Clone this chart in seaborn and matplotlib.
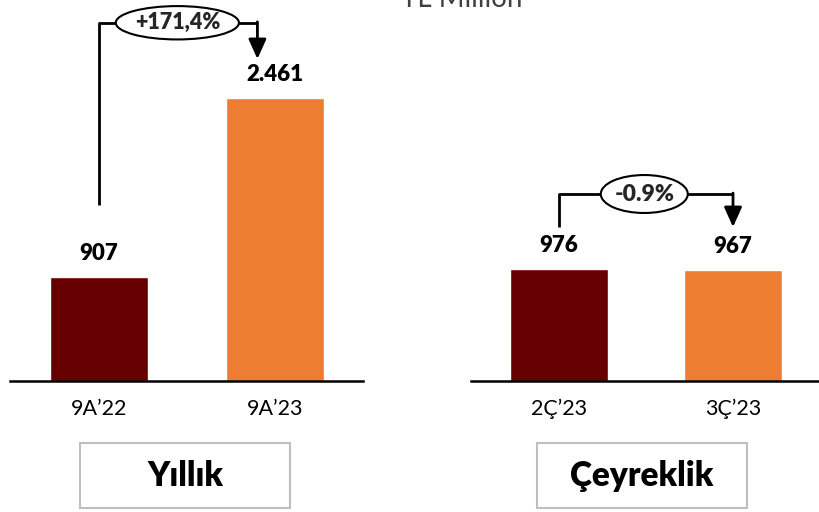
# TL Million - yearly vs quarterly comparison

import pandas as pd
import numpy as np
import matplotlib.pyplot as plt
import seaborn as sns
from matplotlib.patches import Rectangle, Ellipse

yearly_labels = ["9A’22", "9A’23"]
yearly_values = [907, 2461]
quarterly_labels = ["2Ç’23", "3Ç’23"]
quarterly_values = [976, 967]
yearly_change = "+171,4%"
quarterly_change = "-0.9%"
bar_colors = ["#660000", "#ED7D31"]

sns.set_theme(style="white")
plt.rcParams["font.family"] = ["Lato", "DejaVu Sans"]

fig = plt.figure(figsize=(8.2, 5.12), dpi=100)
ax1 = fig.add_axes([10 / 820, 1 - 381 / 512, 353 / 820, 381 / 512])
ax2 = fig.add_axes([471 / 820, 1 - 381 / 512, 349 / 820, 381 / 512])


def tr_num(v):
    return f"{v:,}".replace(",", ".")


def draw_panel(ax, labels, values):
    df = pd.DataFrame({"label": labels, "value": values})
    sns.barplot(data=df, x="label", y="value", hue="label", palette=bar_colors,
                width=0.56, legend=False, ax=ax, saturation=1)
    for cont, v in zip(ax.containers, values):
        ax.bar_label(cont, labels=[tr_num(v)], padding=9, fontsize=16,
                     fontweight="heavy", color="black")
    ax.set_ylim(0, 3313)
    ax.set_xlim(-0.506, 1.5)
    ax.set_xlabel("")
    ax.set_ylabel("")
    ax.set_yticks([])
    for s in ["left", "right", "top"]:
        ax.spines[s].set_visible(False)
    ax.spines["bottom"].set_color("black")
    ax.spines["bottom"].set_linewidth(1.8)
    ax.tick_params(axis="x", length=0, pad=13, labelsize=15.5, labelcolor="black")
    ax.patch.set_alpha(0)


draw_panel(ax1, yearly_labels, yearly_values)
draw_panel(ax2, quarterly_labels, quarterly_values)


def change_bracket(ax, x0, x1, y_low, y_top, y_tip, text, xt, ew, eh, fs):
    ax.plot([x0, x0, x1], [y_low, y_top, y_top], color="black", lw=2,
            clip_on=False, solid_capstyle="butt", zorder=3)
    ax.annotate("", xy=(x1, y_tip), xytext=(x1, y_top + 8),
                arrowprops=dict(arrowstyle="-|>,head_width=0.45,head_length=1.0",
                                color="black", lw=2, shrinkA=0, shrinkB=0),
                annotation_clip=False, zorder=3)
    ax.add_patch(Ellipse((xt, y_top), ew, eh, fc="white", ec="black", lw=1.5,
                         zorder=4, clip_on=False))
    ax.text(xt, y_top, text, ha="center", va="center", fontsize=fs,
            fontweight="heavy", zorder=5, clip_on=False)


change_bracket(ax1, 0, 0.9, 1530, 3115, 2800, yearly_change, 0.445, 0.7, 290, 15.5)
change_bracket(ax2, 0, 1.0, 1339, 1626, 1339, quarterly_change, 0.49, 0.5, 330, 16.5)

# TL Million header (partly cut at the top)
fig.text(462 / 820, 1 - 7 / 512, "TL Million", ha="center", va="baseline",
         fontsize=20, color="#404040")

# period boxes
for x0, label in [(80, "Yıllık"), (537, "Çeyreklik")]:
    fig.add_artist(Rectangle((x0 / 820, 1 - 508 / 512), 210 / 820, 65 / 512,
                             transform=fig.transFigure, fill=False,
                             ec="#BFBFBF", lw=1.5))
    fig.text((x0 + 105) / 820, 1 - 476 / 512, label, ha="center", va="center",
             fontsize=24, fontweight="heavy", color="black")

fig.savefig("out.png", dpi=100)
